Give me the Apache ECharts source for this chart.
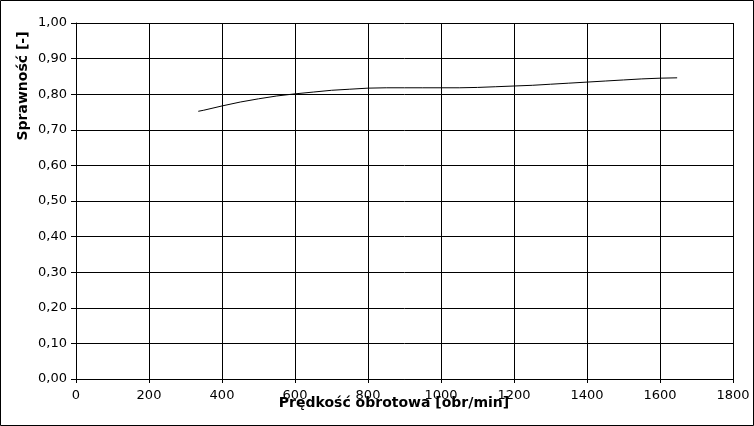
<!DOCTYPE html>
<html>
<head>
<meta charset="utf-8">
<script src="https://cdn.jsdelivr.net/npm/echarts@6/dist/echarts.min.js"></script>
<style>
html,body{margin:0;padding:0;background:#fff;}
#c{width:754px;height:426px;}
</style>
</head>
<body>
<div id="c"></div>
<script>
// Data
const speed = [335, 350, 400, 450, 500, 550, 600, 650, 700, 750, 800, 850, 900, 950, 1000, 1050, 1100, 1150, 1200, 1250, 1300, 1350, 1400, 1450, 1500, 1550, 1600, 1647];
const efficiency = [0.752, 0.755, 0.767, 0.778, 0.787, 0.795, 0.801, 0.806, 0.811, 0.814, 0.817, 0.818, 0.818, 0.818, 0.818, 0.818, 0.819, 0.821, 0.823, 0.825, 0.828, 0.831, 0.834, 0.837, 0.840, 0.843, 0.845, 0.846];
const xAxisTitle = 'Prędkość obrotowa [obr/min]';
const yAxisTitle = 'Sprawność [-]';

const font = 'DejaVu Sans';
const chart = echarts.init(document.getElementById('c'), null, {renderer: 'canvas'});
chart.setOption({
  animation: false,
  backgroundColor: '#fff',
  grid: {left: 76, top: 23, width: 657, height: 356, containLabel: false},
  xAxis: {
    type: 'value', min: 0, max: 1800, interval: 200,
    axisLine: {show: true, lineStyle: {color: '#000', width: 1}},
    axisTick: {show: true, length: 4, lineStyle: {color: '#000'}},
    axisLabel: {color: '#000', fontFamily: font, fontSize: 13, margin: 10,
      formatter: v => String(v)},
    splitLine: {show: true, lineStyle: {color: '#000', width: 1}}
  },
  yAxis: {
    type: 'value', min: 0, max: 1, interval: 0.1,
    axisLine: {show: true, lineStyle: {color: '#000', width: 1}},
    axisTick: {show: true, length: 5, lineStyle: {color: '#000'}},
    axisLabel: {color: '#000', fontFamily: font, fontSize: 13, margin: 9,
      formatter: v => v.toFixed(2).replace('.', ',')},
    splitLine: {show: true, lineStyle: {color: '#000', width: 1}}
  },
  series: [{
    type: 'line',
    data: speed.map((s, i) => [s, efficiency[i]]),
    showSymbol: false,
    lineStyle: {color: '#000', width: 1},
    z: 5
  }],
  graphic: [
    {type: 'rect', shape: {x: 0.5, y: 0.5, width: 753, height: 425}, style: {fill: null, stroke: '#000', lineWidth: 1}, silent: true},
    {type: 'text', x: 394, y: 403, style: {text: xAxisTitle, font: 'bold 14px "DejaVu Sans"', fill: '#000', textAlign: 'center', textVerticalAlign: 'middle'}},
    {type: 'text', x: 23, y: 86, rotation: Math.PI / 2, style: {text: yAxisTitle, font: 'bold 14px "DejaVu Sans"', fill: '#000', textAlign: 'center', textVerticalAlign: 'middle'}}
  ]
});
</script>
</body>
</html>
